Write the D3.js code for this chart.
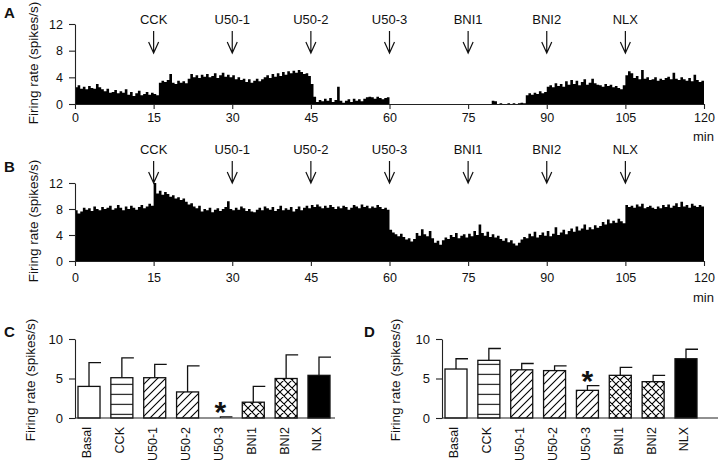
<!DOCTYPE html>
<html>
<head>
<meta charset="utf-8">
<script src="https://cdn.jsdelivr.net/npm/d3@7"></script>
<style>
  body { margin: 0; background: #fff; }
  text { font-family: "Liberation Sans", Arial, sans-serif; fill: #111; }
</style>
</head>
<body>
<div id="chart"></div>
<script>
//-- Data --//
var binMin = 0.5; // histogram bin width (min)

// panel A firing rate, 0.5 min bins, 0..120 min
var rateA = [
  2.5, 2.8, 2.3, 2.6, 2.2, 2.7, 2.4, 2.3, 3.0, 2.5,
  2.2, 1.9, 2.3, 1.7, 1.8, 2.1, 1.6, 1.9, 1.7, 2.2,
  1.4, 1.8, 1.2, 1.6, 2.0, 1.3, 1.5, 1.8, 1.4, 1.7,
  1.5, 1.3, 3.2, 3.5, 3.3, 3.6, 4.5, 3.2, 3.0, 3.5,
  3.2, 3.4, 3.1, 3.8, 4.5, 4.0, 4.3, 3.9, 4.4, 4.1,
  4.5, 4.0, 4.2, 4.6, 3.9, 4.3, 4.7, 4.1, 4.4, 4.0,
  4.3, 3.7, 4.0, 3.6, 3.8, 3.3, 3.7, 3.2, 3.5, 3.8,
  3.4, 3.7, 4.0, 4.3, 3.9, 4.5, 4.1, 4.6, 4.2, 4.8,
  4.4, 4.9, 4.6, 5.0, 4.7, 5.1, 4.8, 4.5, 4.6, 4.2,
  3.0, 1.1, 0.3, 0.6, 0.4, 0.8, 0.5, 0.9, 0.3, 0.6,
  2.6, 0.5, 0.2, 0.5, 0.7, 0.3, 0.8, 0.5, 0.7, 0.4,
  0.8, 1.0, 1.1, 1.0, 0.8, 1.1, 0.9, 0.7, 0.9, 1.0,
  0, 0, 0, 0, 0, 0, 0, 0, 0, 0,
  0, 0, 0, 0, 0, 0, 0, 0, 0, 0,
  0, 0, 0, 0, 0, 0, 0, 0, 0, 0,
  0, 0, 0, 0, 0, 0, 0, 0, 0, 0.5,
  0.4, 0, 0.1, 0, 0, 0.1, 0, 0.1, 0, 0.1,
  0.2, 0.1, 1.3, 1.6, 1.4, 1.7, 1.5, 1.9, 1.6, 1.8,
  2.6, 2.8, 2.5, 3.1, 2.7, 3.0, 2.6, 3.4, 2.9, 3.6,
  3.0, 3.5, 2.8, 3.3, 3.7, 2.9, 3.2, 3.8, 3.1, 2.9,
  2.8, 2.6, 3.0, 2.7, 2.9, 2.5, 2.7, 2.4, 2.2, 2.8,
  4.3, 4.9, 4.6, 3.9, 4.2, 3.7, 5.1, 3.8, 4.0, 3.6,
  3.7, 4.0, 3.5, 3.8, 3.6, 3.9, 4.1, 3.7, 4.7, 3.8,
  3.6, 4.0, 3.7, 3.5, 3.9, 3.4, 4.4, 3.6, 3.3, 3.5
];

// panel B firing rate, 0.5 min bins, 0..120 min
var rateB = [
  7.8, 7.3, 7.6, 8.2, 7.9, 8.1, 7.7, 8.4, 8.0, 7.8,
  8.3, 8.0, 8.2, 8.5, 7.9, 8.1, 8.6, 8.2, 7.8, 8.4,
  8.0, 8.5, 8.2, 7.9, 8.3, 8.6, 8.1, 8.4, 8.8, 8.5,
  12.0, 10.4, 10.8, 10.2, 10.6, 10.3, 9.9, 10.1, 9.6, 9.8,
  9.4, 9.6, 9.1, 8.7, 8.9, 8.4, 8.1, 8.5, 7.6, 8.0,
  7.8, 8.2, 7.5, 7.9, 8.1, 7.7, 8.0, 8.3, 9.2, 8.0,
  7.8, 8.2, 7.9, 8.4, 8.1, 7.7, 8.0, 7.6, 7.5, 7.9,
  8.2, 7.8, 8.4, 8.1, 7.9, 8.3, 7.7, 8.0, 8.5, 7.8,
  8.1, 7.9, 8.3, 7.6, 8.0, 8.4, 7.8, 8.2, 8.5, 8.1,
  8.6, 8.3, 8.7, 8.4, 8.1, 8.5, 8.2, 8.6, 8.3, 8.0,
  8.4, 8.1, 8.5, 8.3, 7.9, 8.2, 8.6, 8.4, 8.1, 8.7,
  8.3, 8.5, 8.1, 8.4, 8.2, 8.6, 8.3, 8.0, 8.2, 7.9,
  4.8, 4.4, 4.1, 3.8, 4.2, 3.7, 3.3, 3.5, 3.0, 3.4,
  4.3, 3.9, 4.9, 4.1, 3.8, 4.6, 3.5, 2.8, 3.1, 2.5,
  3.2, 3.6, 3.4, 4.0, 3.7, 4.3, 3.5, 3.9, 4.1, 3.6,
  4.2, 3.8, 4.6, 4.0, 5.6, 4.3, 3.9, 4.5, 3.7, 4.1,
  3.6, 3.9, 3.4, 3.1, 3.5, 2.9, 3.2, 2.7, 2.4, 2.8,
  3.3, 3.7, 3.5, 4.2, 3.8, 4.5, 3.6, 4.0, 4.4, 3.9,
  4.6, 3.8, 4.2, 5.2, 4.0, 4.4, 4.8, 4.1, 4.6, 5.0,
  4.5, 5.3, 4.7, 5.0, 5.6, 4.8, 5.2, 4.9, 5.5, 5.1,
  5.4, 6.0, 5.6, 6.4, 5.8, 6.2, 5.9, 6.5, 6.1, 5.8,
  8.6, 8.3, 8.5, 8.2, 8.7, 8.4, 8.8, 8.1, 8.3, 8.5,
  8.2, 8.0, 8.4, 8.1, 8.6, 8.3, 8.7, 8.2, 8.5, 8.9,
  8.3, 9.1, 8.4, 8.6, 8.2, 8.8, 8.5, 8.3, 8.6, 8.4
];

var eventNames = ["CCK", "U50-1", "U50-2", "U50-3", "BNI1", "BNI2", "NLX"];
var eventTimes = [15, 30, 45, 60, 75, 90, 105];
var timeTicks = [0, 15, 30, 45, 60, 75, 90, 105, 120];
var rateTicks = [0, 4, 8, 12];

var barCats = ["Basal", "CCK", "U50-1", "U50-2", "U50-3", "BNI1", "BNI2", "NLX"];
var meanC = [4.0, 5.1, 5.1, 3.3, 0, 2.0, 5.0, 5.4];
var errTopC = [7.0, 7.6, 6.8, 6.6, 0.15, 4.0, 8.0, 7.7];
var meanD = [6.2, 7.3, 6.1, 6.0, 3.5, 5.4, 4.6, 7.5];
var errTopD = [7.5, 8.8, 6.9, 6.6, 4.1, 6.4, 5.4, 8.7];
var barTicks = [0, 5, 10];
var starC = ["U50-3"], starD = ["U50-3"];

//-- SVG --//
var svg = d3.select("#chart").append("svg")
  .attr("width", 720)
  .attr("height", 464);

var font = "'Liberation Sans', Arial, sans-serif";

//-- Patterns --//
var defs = svg.append("defs");
defs.append("pattern")
  .attr("id", "hlines").attr("patternUnits", "userSpaceOnUse")
  .attr("width", 10).attr("height", 10).attr("y", 3.8)
  .append("path").attr("d", "M0,0.5 H10").attr("stroke", "#000").attr("stroke-width", 1.1);
defs.append("pattern")
  .attr("id", "diag").attr("patternUnits", "userSpaceOnUse")
  .attr("width", 8).attr("height", 8)
  .append("path").attr("d", "M-2,2 L2,-2 M0,8 L8,0 M6,10 L10,6")
  .attr("stroke", "#000").attr("stroke-width", 1.1);
var cross = defs.append("pattern")
  .attr("id", "cross").attr("patternUnits", "userSpaceOnUse")
  .attr("width", 8).attr("height", 8);
cross.append("path").attr("d", "M-2,2 L2,-2 M0,8 L8,0 M6,10 L10,6 M-2,6 L2,10 M0,0 L8,8 M6,-2 L10,2")
  .attr("stroke", "#000").attr("stroke-width", 1.1);

var fillOf = {
  "Basal": "#fff", "CCK": "url(#hlines)", "U50-1": "url(#diag)", "U50-2": "url(#diag)",
  "U50-3": "url(#diag)", "BNI1": "url(#cross)", "BNI2": "url(#cross)", "NLX": "#000"
};

function styleAxis(g, size) {
  g.attr("font-size", size).attr("font-family", font);
  g.selectAll("path, line").attr("stroke", "#222").attr("stroke-width", 1.1);
  g.selectAll("text").attr("fill", "#111");
}

function yTitle(x, y) {
  svg.append("text")
    .attr("transform", "translate(" + x + "," + y + ") rotate(-90)")
    .attr("text-anchor", "middle")
    .attr("dy", "0.35em")
    .attr("font-size", 13.5)
    .text("Firing rate (spikes/s)");
}

function panelLetter(l, x, y) {
  svg.append("text").attr("x", x).attr("y", y)
    .attr("font-size", 15).attr("font-weight", "bold")
    .text(l);
}

//-- Histograms (A, B) --//
function drawHist(rates, top, bottom, arrowTop, tickPad, minY) {
  var x = d3.scaleLinear().domain([0, 120]).range([75, 704]);
  var y = d3.scaleLinear().domain([0, 12]).range([bottom, top]);

  var pts = rates.map(function(v, i) { return {t: i * binMin, v: v}; });
  pts.push({t: 120, v: rates[rates.length - 1]});

  var area = d3.area()
    .curve(d3.curveStepAfter)
    .x(function(d) { return x(d.t); })
    .y0(y(0))
    .y1(function(d) { return y(d.v); });

  svg.append("path").datum(pts)
    .attr("d", area)
    .attr("fill", "#000");

  var gx = svg.append("g")
    .attr("transform", "translate(0," + y(0) + ")")
    .call(d3.axisBottom(x).tickValues(timeTicks).tickSize(5).tickPadding(tickPad).tickSizeOuter(0));
  styleAxis(gx, 12.5);

  var gy = svg.append("g")
    .attr("transform", "translate(75,0)")
    .call(d3.axisLeft(y).tickValues(rateTicks).tickSize(6).tickPadding(6).tickSizeOuter(0));
  styleAxis(gy, 12.5);

  svg.append("text")
    .attr("x", 693).attr("y", minY)
    .attr("font-size", 13)
    .text("min");

  // drug application arrows
  var ev = svg.append("g").selectAll("g")
    .data(eventNames)
    .enter().append("g")
    .attr("transform", function(d, i) { return "translate(" + x(eventTimes[i]) + "," + arrowTop + ")"; });
  ev.append("text")
    .attr("text-anchor", "middle")
    .attr("y", -3)
    .attr("font-size", 13)
    .text(function(d) { return d; });
  ev.append("path")
    .attr("d", "M0,4 V26 M-5,15 L0,26 L5,15")
    .attr("fill", "none")
    .attr("stroke", "#111")
    .attr("stroke-width", 1.2);
}

drawHist(rateA, 24, 104, 27, 4, 141);
drawHist(rateB, 183, 261, 157, 7, 302);

//-- Bar charts (C, D) --//
function drawBars(means, tops, stars, axisX, barStart, barEnd, axisEnd) {
  var x = d3.scaleBand().domain(barCats).range([barStart, barEnd]).paddingInner(0.33).paddingOuter(0);
  var y = d3.scaleLinear().domain([0, 10]).range([418, 339]);
  var bw = x.bandwidth();

  var bars = svg.append("g").selectAll(".bar")
    .data(barCats)
    .enter();

  // error bars (mean to top, half cap)
  bars.append("path")
    .attr("class", "err")
    .attr("d", function(d, i) {
      var cx = x(d) + bw / 2;
      return "M" + cx + "," + y(means[i]) + " V" + y(tops[i]) + " H" + (x(d) + bw + 1);
    })
    .attr("fill", "none")
    .attr("stroke", "#111")
    .attr("stroke-width", 1.3);

  bars.append("rect")
    .attr("class", "bar")
    .attr("x", function(d) { return x(d); })
    .attr("width", bw)
    .attr("y", function(d, i) { return y(means[i]); })
    .attr("height", function(d, i) { return y(0) - y(means[i]); })
    .attr("fill", function(d) { return fillOf[d]; })
    .attr("stroke", "#111")
    .attr("stroke-width", 1.3);

  // axes
  svg.append("line")
    .attr("x1", axisX).attr("x2", axisEnd)
    .attr("y1", y(0)).attr("y2", y(0))
    .attr("stroke", "#222").attr("stroke-width", 1.1);

  var gy = svg.append("g")
    .attr("transform", "translate(" + axisX + ",0)")
    .call(d3.axisLeft(y).tickValues(barTicks).tickSize(6).tickPadding(6).tickSizeOuter(0));
  styleAxis(gy, 13);

  var gx = svg.append("g")
    .attr("transform", "translate(0," + y(0) + ")")
    .call(d3.axisBottom(x).tickSize(0));
  gx.select(".domain").remove();
  styleAxis(gx, 12.5);
  gx.selectAll("text")
    .attr("transform", "rotate(-90)")
    .attr("text-anchor", "end")
    .attr("x", -9)
    .attr("y", -2)
    .attr("dy", "0.35em");

  // significance stars
  svg.append("g").selectAll("text")
    .data(stars)
    .enter().append("text")
    .attr("x", function(d) { return x(d) + bw / 2; })
    .attr("y", function(d) { return y(tops[barCats.indexOf(d)]) - 10; })
    .attr("dy", "0.5em")
    .attr("text-anchor", "middle")
    .attr("font-size", 30)
    .attr("font-weight", "bold")
    .text("*");
}

drawBars(meanC, errTopC, starC, 75, 78, 330, 335);
drawBars(meanD, errTopD, starD, 442, 445, 697, 718);

//-- Titles and panel letters --//
yTitle(33, 63);
yTitle(33, 221);
yTitle(30, 380);
yTitle(395, 380);

panelLetter("A", 4, 18);
panelLetter("B", 4, 172);
panelLetter("C", 4, 337);
panelLetter("D", 364, 337);
</script>
</body>
</html>
